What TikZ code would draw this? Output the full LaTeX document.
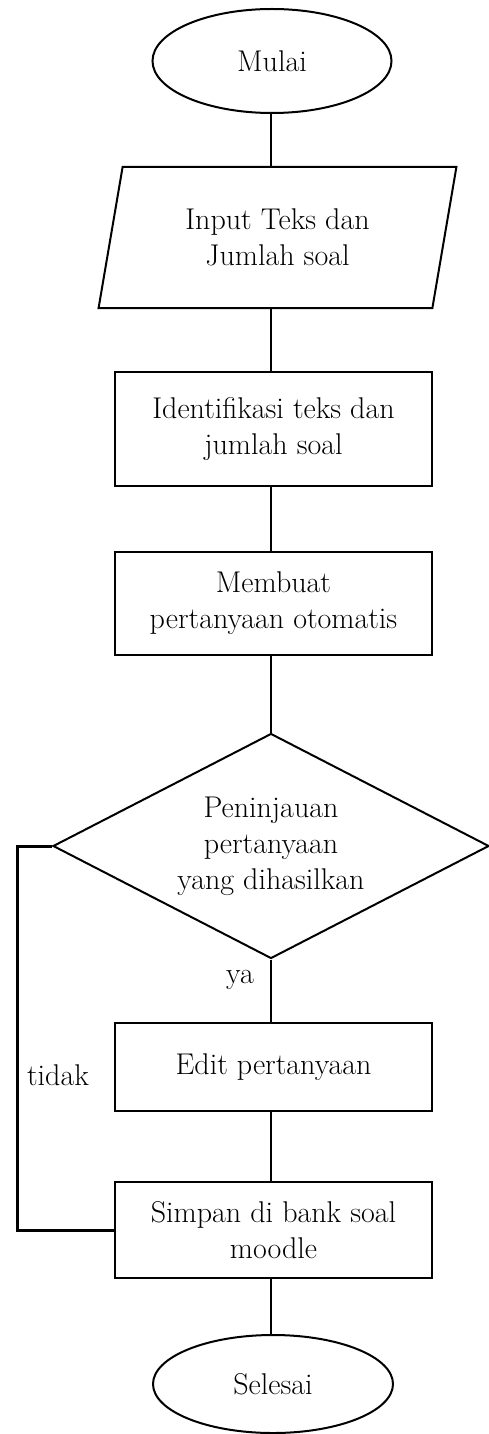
\documentclass[tikz,border=0pt]{standalone}
\usetikzlibrary{shapes.geometric}
\begin{document}
\begin{tikzpicture}[x=1pt,y=-1pt,
  every node/.style={font=\fontsize{30}{36}\selectfont, align=center, inner sep=0pt},
  shapeline/.style={draw, line width=2pt},
  term/.style={shapeline, ellipse, minimum width=#1, minimum height=100pt},
  procbox/.style={shapeline, rectangle, minimum width=317pt},
  conn/.style={line width=1.8pt},
  loopline/.style={line width=3pt}]
\useasboundingbox (0,0) rectangle (488,1434);
\node[term=239pt, minimum height=104pt] (mulai) at (272,61) {Mulai};
\node[shapeline, trapezium, trapezium left angle=76, trapezium right angle=104,
      trapezium stretches=true, minimum width=359pt, minimum height=141pt] (inp) at (277.5,237.5) {Input Teks dan\\Jumlah soal};
\node[procbox, minimum height=114pt] (b1) at (273.5,429) {Identifikasi teks dan\\jumlah soal};
\node[procbox, minimum height=103pt] (b2) at (273.5,603.5) {Membuat\\pertanyaan otomatis};
\node[shapeline, diamond, minimum width=436pt, minimum height=225pt] (dec) at (271,846) {};
\node at (271,846) {Peninjauan\\pertanyaan\\yang dihasilkan};
\node[procbox, minimum height=88pt] (b3) at (273.5,1067) {Edit pertanyaan};
\node[procbox, minimum height=96pt] (b4) at (273.5,1230) {Simpan di bank soal\\moodle};
\node[term=240pt, minimum height=98pt] (sel) at (273,1384) {Selesai};
\node (ya) at (240,980) {ya};
\node (tidak) at (58,1075) {tidak};
\draw[conn] (dec.north |- mulai.south) -- (dec.north |- inp.north);
\draw[conn] (dec.north |- inp.south) -- (dec.north |- b1.north);
\draw[conn] (dec.north |- b1.south) -- (dec.north |- b2.north);
\draw[conn] (dec.north |- b2.south) -- (dec.north);
\draw[conn] (dec.south) -- (dec.south |- b3.north);
\draw[conn] (dec.south |- b3.south) -- (dec.south |- b4.north);
\draw[conn] (dec.south |- b4.south) -- (dec.south |- sel.north);
\draw[loopline] (dec.west) -- ([xshift=-35pt]dec.west) |- (b4.west);
\end{tikzpicture}
\end{document}
